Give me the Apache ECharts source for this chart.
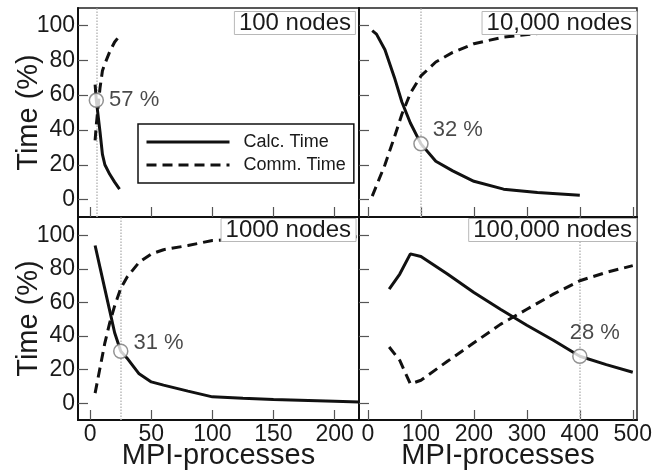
<!DOCTYPE html>
<html>
<head>
<meta charset="utf-8">
<script src="https://cdn.jsdelivr.net/npm/echarts@6/dist/echarts.min.js"></script>
<style>
  html, body { margin: 0; padding: 0; background: #fff; }
  #chart { width: 654px; height: 472px; }
</style>
</head>
<body>
<div id="chart"></div>
<script>
// ---- data: share of run time spent computing vs communicating ----
const seriesNames = ['Calc. Time', 'Comm. Time'];
const panelTitles = ['100 nodes', '10,000 nodes', '1000 nodes', '100,000 nodes'];

// 100 nodes
const procs100 = [4, 5, 8, 10, 12, 16, 20, 24];
const calc100  = [66, 57, 39, 26, 20, 14.5, 10, 6];
const comm100  = [34, 43, 64, 74, 78, 85, 90.5, 94];

// 10,000 nodes
const procs10k = [8, 16, 32, 50, 64, 80, 100, 128, 160, 200, 256, 320, 400];
const calc10k  = [97, 95, 86, 70, 56, 44, 32, 22, 16.5, 10.5, 6, 4, 2.5];
const comm10k  = [2, 8, 20, 36, 49, 61, 71, 79, 84.5, 89.5, 93.3, 95.3, 97.5];

// 1000 nodes
const procs1k = [4, 8, 12, 16, 20, 25, 30, 40, 50, 60, 80, 100, 125, 150, 200, 220];
const calc1k  = [94, 81, 68, 55, 42, 31, 27, 17.5, 12.7, 10.8, 7.2, 3.8, 2.9, 2.2, 1.2, 0.8];
const comm1k  = [6, 21, 36, 48, 58, 68.5, 75, 84, 89, 91.5, 94, 97, 98, 98.5, 99, 99.2];

// 100,000 nodes
const procs100k = [40, 60, 80, 100, 150, 200, 250, 300, 350, 400, 450, 500];
const calc100k  = [68, 77, 89, 87.5, 77, 66, 56, 46.5, 37.5, 28, 23, 18.5];
const comm100k  = [33.5, 25.5, 11.5, 13.7, 25, 36, 47, 56, 65, 73, 78, 82];

// highlighted operating point per panel (process count, calc-time %)
const pickProcs = [5, 100, 25, 400];
const pickCalc  = [57, 32, 31, 28];

// tick values
const timeTicks = [0, 20, 40, 60, 80, 100];
const procTicksLeft = [0, 50, 100, 150, 200];
const procTicksRight = [0, 100, 200, 300, 400, 500];

// ---- layout ----
const FONT = 'Liberation Sans, Arial, Helvetica, sans-serif';
const TEXT = '#1a1a1a';
const INK = '#111';

const panels = [
  { procs: procs100,  calc: calc100,  comm: comm100,  grid: { left: 78,  top: 8,   width: 281, height: 209 }, x: [-10, 220], y: [-10, 110], xt: procTicksLeft,  labelPos: 'right', labelOff: [0, 0] },
  { procs: procs10k,  calc: calc10k,  comm: comm10k,  grid: { left: 359, top: 8,   width: 278, height: 209 }, x: [-17, 508], y: [-10, 110], xt: procTicksRight, labelPos: 'right', labelOff: [-1, -14] },
  { procs: procs1k,   calc: calc1k,   comm: comm1k,   grid: { left: 78,  top: 217, width: 281, height: 203 }, x: [-10, 220], y: [-10, 111], xt: procTicksLeft,  labelPos: 'right', labelOff: [0, -8] },
  { procs: procs100k, calc: calc100k, comm: comm100k, grid: { left: 359, top: 217, width: 278, height: 203 }, x: [-17, 508], y: [-10, 111], xt: procTicksRight, labelPos: 'top',   labelOff: [15, 0] }
];

const zip = (xs, ys) => xs.map((x, i) => [x, ys[i]]);

const grid = [], xAxis = [], yAxis = [], series = [], title = [];

panels.forEach((p, i) => {
  const isLeft = i % 2 === 0;
  const isBottom = i >= 2;

  grid.push(Object.assign({
    show: true, borderColor: '#222', borderWidth: 1.5,
    containLabel: false, outerBoundsMode: 'none'
  }, p.grid));

  xAxis.push({
    type: 'value', gridIndex: i, min: p.x[0], max: p.x[1],
    axisLine: { show: true, onZero: false, lineStyle: { color: INK, width: 2 } },
    axisTick: { show: true, inside: true, length: 10, customValues: p.xt, lineStyle: { color: '#555', width: 1.2 } },
    axisLabel: { show: isBottom, customValues: p.xt, fontSize: 23, margin: 3, color: TEXT, fontFamily: FONT },
    splitLine: { show: false },
    name: isBottom ? 'MPI-processes' : '',
    nameLocation: 'middle', nameGap: 21, nameMoveOverlap: false,
    nameTextStyle: { fontSize: 29, color: TEXT, fontFamily: FONT }
  });

  yAxis.push({
    type: 'value', gridIndex: i, min: p.y[0], max: p.y[1],
    axisLine: { show: true, onZero: false, lineStyle: { color: INK, width: 2 } },
    axisTick: { show: true, inside: true, length: 10, customValues: timeTicks, lineStyle: { color: '#555', width: 1.2 } },
    axisLabel: { show: isLeft, customValues: timeTicks, fontSize: 23, margin: 3, color: TEXT, fontFamily: FONT },
    splitLine: { show: false },
    name: isLeft ? 'Time (%)' : '',
    nameLocation: 'middle', nameGap: 35, nameRotate: 90, nameMoveOverlap: false,
    nameTextStyle: { fontSize: 29, color: TEXT, fontFamily: FONT }
  });

  // boxed panel caption, drawn above the curves so it hides what runs under it
  title.push({
    text: panelTitles[i],
    right: isLeft ? 298 : 17,
    top: isBottom ? 218 : 11,
    padding: [0, 5],
    backgroundColor: '#fff',
    borderColor: '#b8b8b8', borderWidth: 1,
    textStyle: {
      fontSize: 24, fontWeight: 'normal', color: TEXT, fontFamily: FONT, lineHeight: 24
    }
  });

  series.push({
    name: seriesNames[0], type: 'line', xAxisIndex: i, yAxisIndex: i,
    data: zip(p.procs, p.calc), symbol: 'none', showSymbol: false, smooth: false,
    lineStyle: { color: INK, width: 3 }, itemStyle: { color: INK }, z: 2
  });
  series.push({
    name: seriesNames[1], type: 'line', xAxisIndex: i, yAxisIndex: i,
    data: zip(p.procs, p.comm), symbol: 'none', showSymbol: false, smooth: false,
    lineStyle: { color: INK, width: 3, type: [10, 6] }, itemStyle: { color: INK }, z: 2
  });
  series.push({
    name: 'pick' + i, type: 'scatter', xAxisIndex: i, yAxisIndex: i,
    data: [[pickProcs[i], pickCalc[i]]],
    symbol: 'circle', symbolSize: 14, z: 4,
    itemStyle: { color: '#fff', borderColor: '#777', borderWidth: 1.5 },
    label: {
      show: true, position: p.labelPos, distance: 5, offset: p.labelOff,
      formatter: (d) => d.value[1] + ' %',
      fontSize: 22, color: TEXT, fontFamily: FONT
    },
    markLine: {
      silent: true, symbol: ['none', 'none'], label: { show: false },
      lineStyle: { color: '#bbb', width: 1.5, type: 'dotted' },
      data: [{ xAxis: pickProcs[i] }], z: 1
    }
  });
});

const chart = echarts.init(document.getElementById('chart'), null, { renderer: 'canvas' });
chart.setOption({
  animation: false,
  backgroundColor: '#fff',
  title,
  grid, xAxis, yAxis, series,
  legend: {
    data: seriesNames,
    orient: 'vertical', left: 138, top: 124,
    padding: [9, 8, 9, 7],
    itemWidth: 83, itemHeight: 14, itemGap: 5,
    selectedMode: false,
    backgroundColor: '#fff', borderColor: '#111', borderWidth: 1.5,
    itemStyle: { opacity: 0 },
    lineStyle: { width: 3 },
    textStyle: { fontSize: 18, color: TEXT, fontFamily: FONT, padding: [0, 0, 0, 9] }
  }
});
</script>
</body>
</html>
